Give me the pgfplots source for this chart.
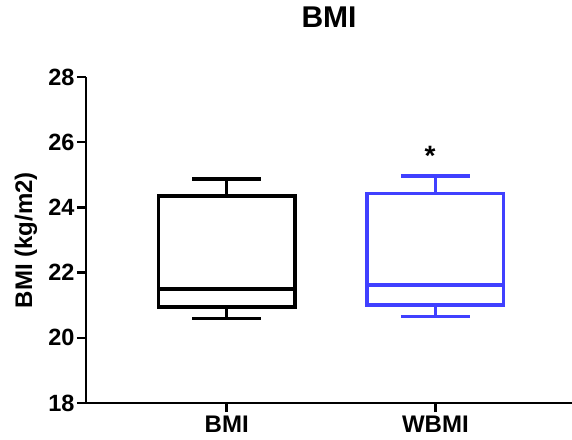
\documentclass[border=0pt]{standalone}
\usepackage{pgfplots}
\pgfplotsset{compat=1.18}
\usepgfplotslibrary{statistics}
\usepackage{fontspec}
\setmainfont{Liberation Sans}
\definecolor{myblue}{RGB}{64,64,255}
\begin{document}
\begin{tikzpicture}
\begin{axis}[name=ax, scale only axis, width=486bp, height=326bp,
 xmin=0.3255, xmax=2.655, ymin=18, ymax=28,
 axis x line=bottom, axis y line=left, axis line style={-, line width=2.5bp},
 xtick={1,2}, xticklabels={BMI,WBMI},
 ytick={18,20,22,24,26,28}, yticklabels={18,20,22,24,26,28},
 tick style={line width=2.5bp, black}, tick align=outside, major tick length=9bp,
 /pgf/number format/assume math mode=true,
 y tick label style={font=\fontsize{23.5bp}{24bp}\selectfont\bfseries, xshift=1bp},
 x tick label style={font=\fontsize{24bp}{24bp}\selectfont\bfseries},
 ylabel={BMI (kg/m2)},
 ylabel style={font=\fontsize{24bp}{24bp}\selectfont\bfseries, at={(axis description cs:-0.1235,0.5)}, anchor=center},
 title={BMI},
 title style={font=\fontsize{30bp}{30bp}\selectfont\bfseries, at={(axis description cs:0.5,1.164)}, anchor=center},
 clip=false,
 boxplot/draw direction=y,
 boxplot/box extend=0.654, boxplot/whisker extend=0.33,
]
\addplot[black, line width=3.5bp, boxplot prepared={draw position=1, lower whisker=20.59, lower quartile=20.95, median=21.49, upper quartile=24.35, upper whisker=24.87}] coordinates {};
\addplot[myblue, line width=3.3bp, boxplot prepared={draw position=2, lower whisker=20.65, lower quartile=21.01, median=21.62, upper quartile=24.43, upper whisker=24.96}] coordinates {};
\node[font=\fontsize{28bp}{28bp}\selectfont\bfseries, anchor=base] at (axis cs:1.975,25.27) {*};
\end{axis}
\pgfresetboundingbox
\path (ax.south west) ++(-86bp,-37bp) rectangle ++(572bp,440bp);
\end{tikzpicture}
\end{document}
